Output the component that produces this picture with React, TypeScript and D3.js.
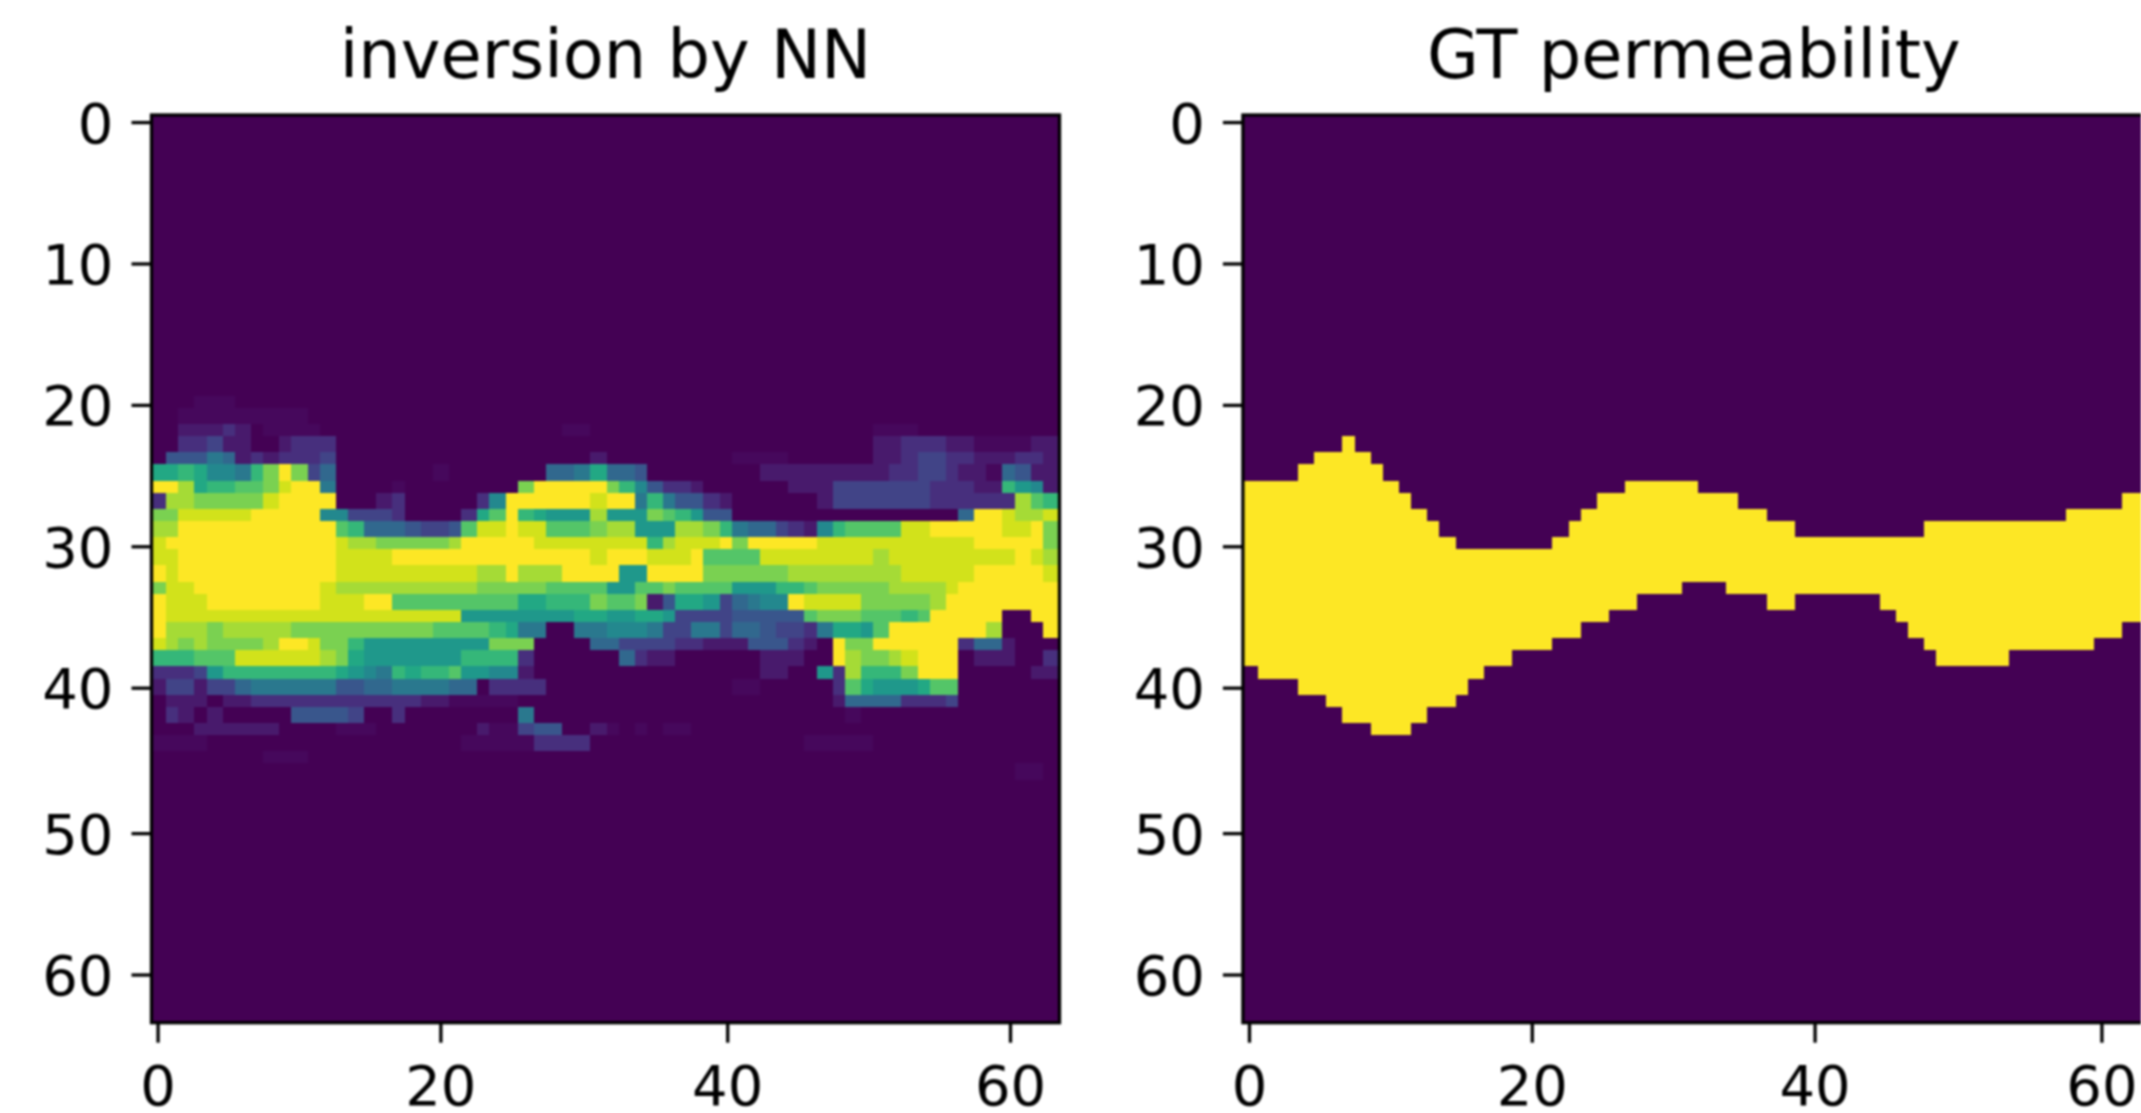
import { useRef, useEffect } from 'react'
import * as d3 from 'd3'

const titles = ['inversion by NN', 'GT permeability']
const tickValues = [0, 10, 20, 30, 40, 50, 60]
const xTickValues = [0, 20, 40, 60]
const gridSize = 64

// network output, one row per line: '.' = 0, ',' = very faint, otherwise hex level / 15
const firstPredRow = 20
const predRows = [
  '...,,,.. ........ ........ ........ ........ ........ ........ ........',
  '..,,,,,, ,,,..... ........ ........ ........ ........ ........ ........',
  '..11121. ,,,,.... ........ .....,,. ........ ........ ...,,,.. ........',
  '..22311. .1222... ........ ........ ........ ........ ...11222 11,,,,11',
  '.4446512 12223... ........ .......1 ........ .,,,,... ...11233 22111221',
  '99a9776a cfc35... ....,... ....5569 554..... ...11111 11112233 211,5411',
  'ffd9aabb ceff6... .,...... ..cfffff ca74221. .....111 33333332 2211a871',
  '2ddccccc effff... 12.....2 7ffffffe ff6a6442 1......1 33333332 22222dba',
  'cceeeeef ffff7733 32....29 bfa9888d 888cba84 4....... ........ .5ffedde',
  'ddffffff fffffba5 554334be efeebbbc dd888ddc a6553217 abbbbeef ffffeefc',
  'efffffff fffffedd cccccdff fffeeeee eeeadeee fcfffffe eeeeeeee eefffffc',
  'eeffffff fffffeee efffffff fffffffe fffeeefb bbbeeeee eeedeeee eeeeefed',
  'feffffff fffffeee eeeeeeed dfdddfff f88ffffc cccccddd dddddeee eefffffe',
  'ceefffff ffffeddd dddddddc ccccbbbb 88bbcbbb b888aabc ccccdddd efffffff',
  'feeeffff ffffeeef fbbbbbbb bb99aaac bbc14998 35677fee eecccccd ffffffff',
  'feeeeeee eeeeeeee eeeeee88 88888899 88998333 344444bc ccbbbabf ffff..ff',
  'fdddcddd ddcccccc ccccbbbb a966..66 77763366 35543326 998bffff fffd...f',
  'edcdcccc dffecca8 88888888 ccc....5 53333221 1144421. fccfffff f2551...',
  'aaabbbee eeeedc98 888888aa aa2..... .5211... ...111.. fdccdeff f.111..2',
  '22238aaa aaaaa987 6a9aab88 771..... ........ ...11..8 2daaacff f.....11',
  '13313356 66666445 5666655. 2222.... ........ .,,..... 2b98889b b.......',
  '.111.112 22222222 22211,,, ,,...... ........ ........ 15555222 3.......',
  '.21.1... ..44443. .2...... ..6..... ........ ........ .,...... ........',
  '...11111 1....,,, .......1 ,,344..1 ,.,.,,.. ........ ........ ........',
  ',,,,.... ........ ......,, ,,,2222. ........ ......,, ,,,..... ........',
  '........ ,,,..... ........ ........ ........ ........ ........ ........',
  '........ ........ ........ ........ ........ ........ ........ .....,,.',
]

// ground truth channel: first filled row and first empty row of every column
const gtTop = [
  26, 26, 26, 26, 25, 24, 24, 23, 24, 25, 26, 27, 28, 29, 30, 31,
  31, 31, 31, 31, 31, 31, 30, 29, 28, 27, 27, 26, 26, 26, 26, 26,
  27, 27, 27, 28, 28, 29, 29, 30, 30, 30, 30, 30, 30, 30, 30, 30,
  29, 29, 29, 29, 29, 29, 29, 29, 29, 29, 28, 28, 28, 28, 27, 27,
]
const gtBottom = [
  39, 40, 40, 40, 41, 41, 42, 43, 43, 44, 44, 44, 43, 42, 42, 41,
  40, 39, 39, 38, 38, 38, 37, 37, 36, 36, 35, 35, 34, 34, 34, 33,
  33, 33, 34, 34, 34, 35, 35, 34, 34, 34, 34, 34, 34, 35, 36, 37,
  38, 39, 39, 39, 39, 39, 38, 38, 38, 38, 38, 38, 37, 37, 36, 36,
]

const level = (ch: string) => (ch === '.' ? 0 : ch === ',' ? 0.02 : parseInt(ch, 16) / 15)

// the source figure snapped every cell to its own small pixel grid, then got scaled up
const SOURCE_SCALE = 4.04
const sourcePx = d3.scaleLinear().domain([-0.5, 63.5]).range([0, 225])

function drawPanel(svg, i: number, originX: number, titleShift: number, xTickNudge: number) {
  const originY = 113
  const xAt = (v: number) => originX + Math.round(sourcePx(v)) * SOURCE_SCALE
  const yAt = (v: number) => originY + Math.floor(sourcePx(v)) * SOURCE_SCALE
  const xTick = (v: number) => originX + Math.round(sourcePx(v) + xTickNudge) * SOURCE_SCALE
  const yTick = (v: number) => originY + 1.5 + Math.round(sourcePx(v)) * SOURCE_SCALE

  const left = originX + 1.5
  const right = originX + 909.5
  const top = 115
  const bottom = 1022.7

  const clipId = `panel-clip-${i}`
  svg
    .append('clipPath')
    .attr('id', clipId)
    .append('rect')
    .attr('x', left)
    .attr('y', top)
    .attr('width', right - left)
    .attr('height', bottom - top)

  const g = svg.append('g')
  const cells = g.append('g').attr('clip-path', `url(#${clipId})`).attr('shape-rendering', 'crispEdges')

  cells
    .append('rect')
    .attr('x', left)
    .attr('y', top)
    .attr('width', right - left)
    .attr('height', bottom - top)
    .attr('fill', d3.interpolateViridis(0))

  if (i === 0) {
    predRows.forEach((line, r) => {
      const row = firstPredRow + r
      const values = line.replace(/ /g, '').split('').map(level)
      cells
        .selectAll(`rect.row-${row}`)
        .data(values.map((value, col) => ({ value, col })).filter((d) => d.value > 0))
        .join('rect')
        .attr('class', `row-${row}`)
        .attr('x', (d) => xAt(d.col - 0.5))
        .attr('y', yAt(row - 0.5))
        .attr('width', (d) => xAt(d.col + 0.5) - xAt(d.col - 0.5))
        .attr('height', yAt(row + 0.5) - yAt(row - 0.5))
        .attr('fill', (d) => d3.interpolateViridis(d.value))
    })
  } else {
    cells
      .selectAll('rect.column')
      .data(d3.range(gridSize))
      .join('rect')
      .attr('class', 'column')
      .attr('x', (c) => xAt(c - 0.5))
      .attr('y', (c) => yAt(gtTop[c] - 0.5))
      .attr('width', (c) => xAt(c + 0.5) - xAt(c - 0.5))
      .attr('height', (c) => yAt(gtBottom[c] - 0.5) - yAt(gtTop[c] - 0.5))
      .attr('fill', d3.interpolateViridis(1))
  }

  // spines
  g.append('rect')
    .attr('x', left)
    .attr('y', top)
    .attr('width', right - left)
    .attr('height', bottom - top)
    .attr('fill', 'none')
    .attr('stroke', '#000')
    .attr('stroke-width', 3.3)

  // ticks
  g.selectAll('line.ytick')
    .data(tickValues)
    .join('line')
    .attr('class', 'ytick')
    .attr('x1', left - 20)
    .attr('x2', left)
    .attr('y1', yTick)
    .attr('y2', yTick)
    .attr('stroke', '#000')
    .attr('stroke-width', 3.3)

  g.selectAll('text.ylabel')
    .data(tickValues)
    .join('text')
    .attr('class', 'ylabel')
    .attr('x', left - 38)
    .attr('y', (v) => yTick(v) + 20)
    .attr('text-anchor', 'end')
    .text((v) => v)

  g.selectAll('line.xtick')
    .data(xTickValues)
    .join('line')
    .attr('class', 'xtick')
    .attr('x1', xTick)
    .attr('x2', xTick)
    .attr('y1', bottom)
    .attr('y2', bottom + 20)
    .attr('stroke', '#000')
    .attr('stroke-width', 3.3)

  g.selectAll('text.xlabel')
    .data(xTickValues)
    .join('text')
    .attr('class', 'xlabel')
    .attr('x', xTick)
    .attr('y', 1105)
    .attr('text-anchor', 'middle')
    .text((v) => v)

  g.append('text')
    .attr('x', (left + right) / 2 + titleShift)
    .attr('y', 78)
    .attr('text-anchor', 'middle')
    .attr('font-size', 67)
    .text(titles[i])
}

export default function App() {
  const svgRef = useRef<SVGSVGElement>(null)

  useEffect(() => {
    const svg = d3.select(svgRef.current)
    svg.selectAll('*').remove()
    svg.attr('font-family', '"DejaVu Sans"').attr('font-size', 56).attr('fill', '#000')
    drawPanel(svg, 0, 150, 0, 0.3)
    drawPanel(svg, 1, 1241.4, -3, 0)
  }, [])

  return (
    <svg
      ref={svgRef}
      width={2141}
      height={1113}
      style={{ position: 'absolute', left: 0, top: 0, background: '#fff', filter: 'blur(1.2px)' }}
    />
  )
}
